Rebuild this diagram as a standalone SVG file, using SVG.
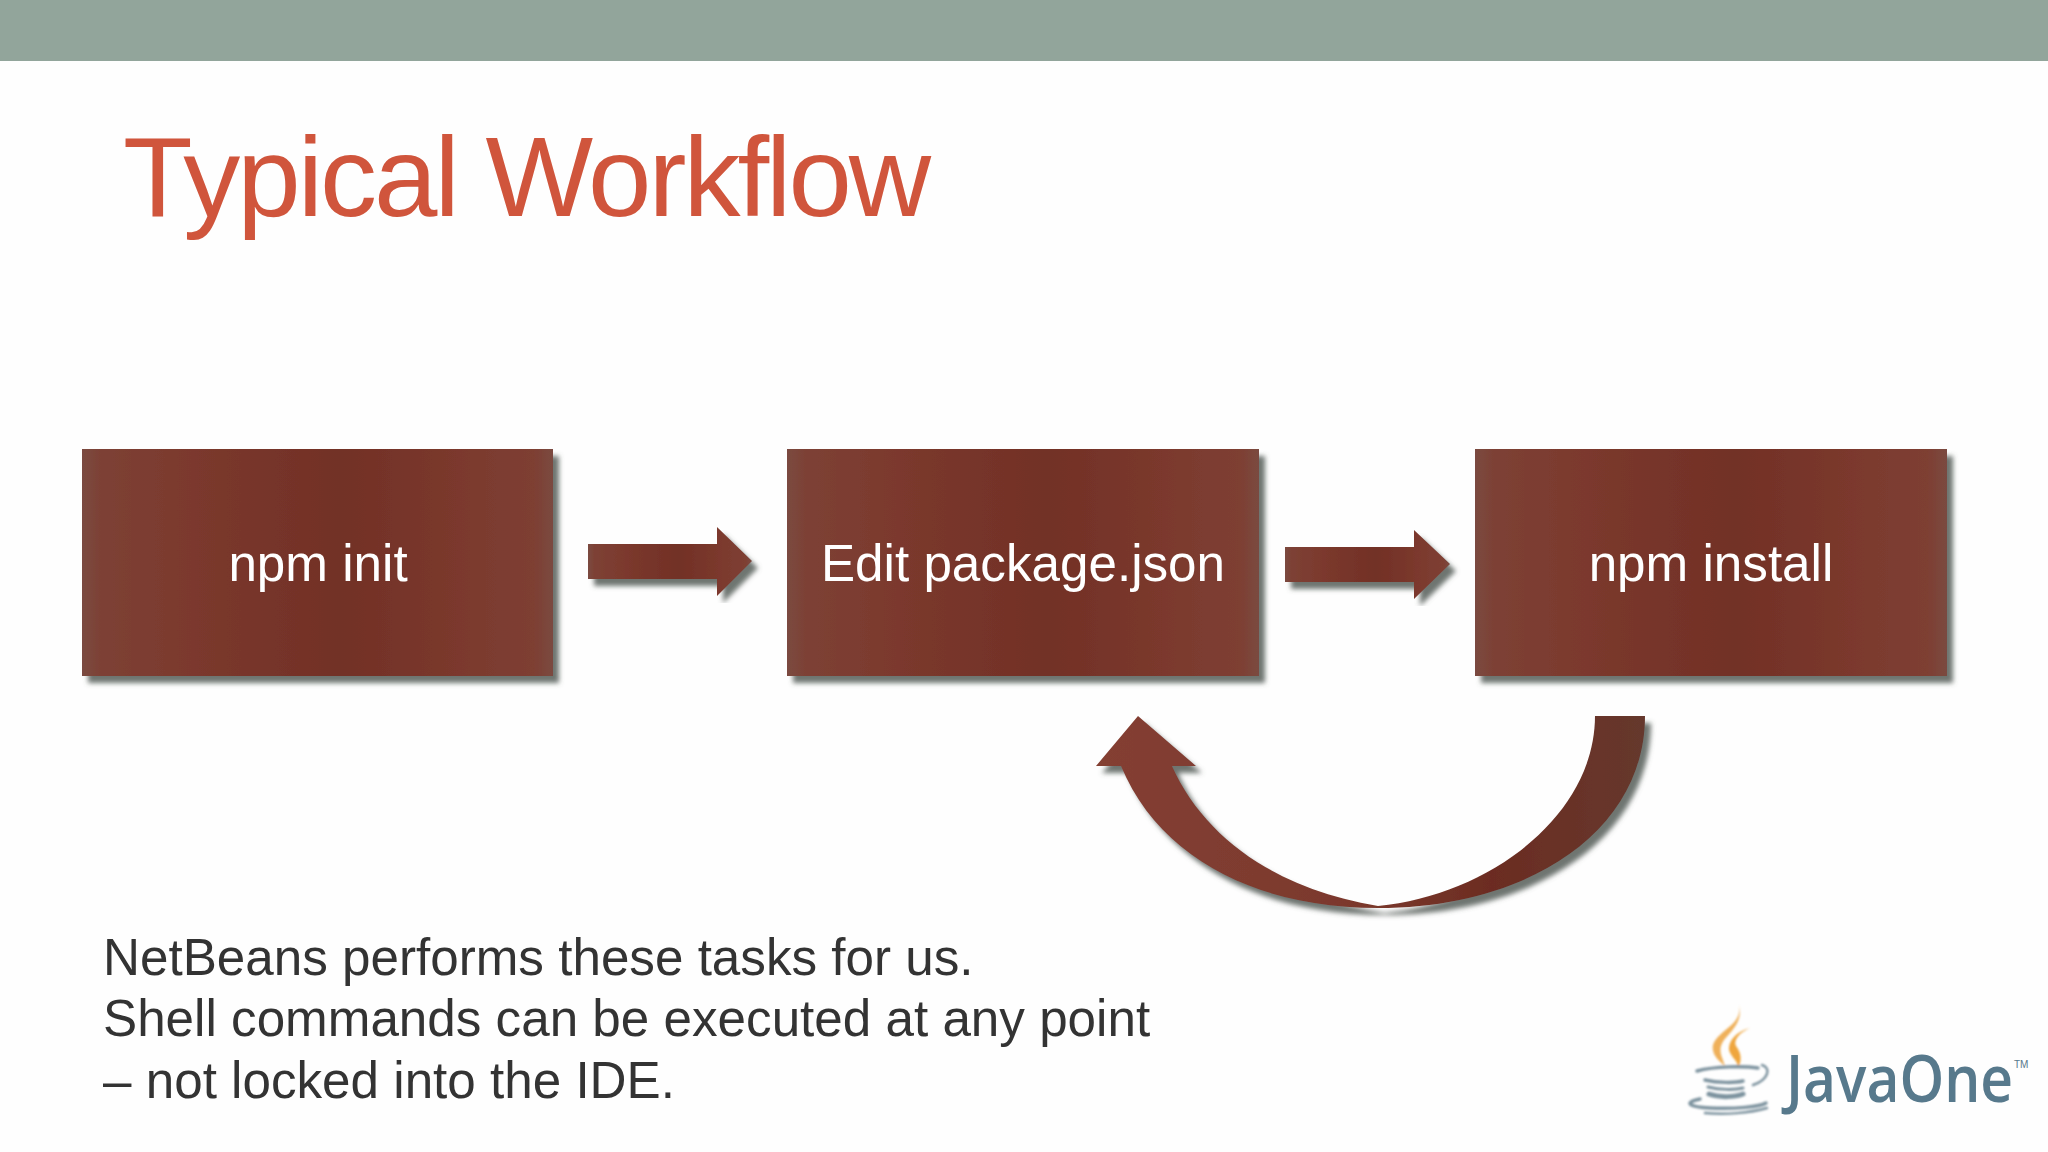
<svg xmlns="http://www.w3.org/2000/svg" width="2048" height="1152" viewBox="0 0 2048 1152">
<style>
.t{font-family:"Liberation Sans",Arial,sans-serif}
.box{fill:url(#g);filter:url(#s)}
.arrow{fill:url(#g);filter:url(#s)}
.lbl{font-size:51.2px;fill:#fff;text-anchor:middle}
.note{font-size:51.2px;fill:#333}
</style>
<defs>
<linearGradient id="g" x1="0" x2="1" y1="0" y2="0">
<stop offset="0" stop-color="#7a4a40"/><stop offset=".04" stop-color="#7d4135"/><stop offset=".2" stop-color="#7c3a2e"/><stop offset=".55" stop-color="#723026"/><stop offset=".8" stop-color="#7b392d"/><stop offset=".96" stop-color="#7e3f33"/><stop offset="1" stop-color="#7a4a40"/>
</linearGradient>
<linearGradient id="c" x1="0" x2="1" y1="0" y2="0">
<stop offset="0" stop-color="#843f33"/><stop offset=".5" stop-color="#7a382c"/><stop offset=".72" stop-color="#6c2c22"/><stop offset="1" stop-color="#65382d"/>
</linearGradient>
<filter id="s" x="-5%" y="-5%" width="112%" height="115%">
<feGaussianBlur in="SourceAlpha" stdDeviation="2.6" result="b"/>
<feOffset in="b" dx="6" dy="7" result="o"/>
<feFlood flood-color="#555d58" flood-opacity=".85"/><feComposite in2="o" operator="in" result="sh"/>
<feMerge><feMergeNode in="sh"/><feMergeNode in="SourceGraphic"/></feMerge>
</filter>
<filter id="soft" x="-10%" y="-10%" width="120%" height="120%"><feGaussianBlur stdDeviation=".8"/></filter>
</defs>
<rect width="2048" height="1152" fill="#fefefe"/>
<rect id="topbar" width="2048" height="61" fill="#92a59b"/>
<text id="title" class="t" x="123" y="216" font-size="114" letter-spacing="-3" fill="#d0553c">Typical Workflow</text>
<g id="connectors">
<path id="a1" class="arrow" d="M588 544H717V527L752 561L717 596V579H588Z"/>
<path id="a2" class="arrow" d="M1285 547H1414V530L1450 564L1414 599V582H1285Z"/>
<path id="loop" style="fill:url(#c);filter:url(#s)" d="M1645 716C1645 830 1530 908 1378 908C1260 908 1160 860 1121 766H1096L1138 716L1196 766H1172C1205 840 1280 890 1378 906C1490 895 1595 815 1595 716Z"/>
</g>
<g id="node1"><rect class="box" x="82" y="449" width="471" height="227"/><text class="t lbl" x="318" y="581">npm init</text></g>
<g id="node2"><rect class="box" x="787" y="449" width="472" height="227"/><text class="t lbl" x="1023" y="581">Edit package.json</text></g>
<g id="node3"><rect class="box" x="1475" y="449" width="472" height="227"/><text class="t lbl" x="1711" y="581">npm install</text></g>
<g id="note" class="t note">
<text x="103" y="975">NetBeans performs these tasks for us.</text>
<text x="103" y="1036">Shell commands can be executed at any point</text>
<text x="103" y="1098">– not locked into the IDE.</text>
</g>
<g id="logo">
<g filter="url(#soft)">
<path d="M1739 1005C1743 1025 1718 1030 1713 1045C1711 1055 1720 1062 1725 1066C1722 1056 1717 1050 1724 1040C1732 1030 1743 1022 1739 1005Z" fill="#efb05a"/>
<path d="M1750 1028C1735 1032 1728 1042 1729 1050C1731 1058 1740 1062 1737 1068C1743 1062 1741 1052 1736 1046C1733 1040 1740 1032 1750 1028Z" fill="#efa63e"/>
<g fill="none" stroke="#7d939f" stroke-linecap="round">
<path d="M1697 1071C1715 1066 1745 1066 1758 1068" stroke-width="3.5"/>
<path d="M1762 1065C1772 1068 1768 1080 1753 1085" stroke-width="2.5"/>
<path d="M1705 1080C1718 1083 1735 1083 1743 1081" stroke-width="3.5"/>
<path d="M1708 1087C1720 1090 1735 1090 1743 1088" stroke-width="3"/>
<path d="M1709 1094C1720 1098 1735 1097 1743 1094" stroke-width="5"/>
<path d="M1700 1099C1682 1103 1690 1107 1710 1108C1735 1109 1760 1107 1766 1103" stroke-width="3.5"/>
<path d="M1705 1113C1725 1115 1750 1113 1767 1108" stroke-width="2.5"/>
</g>
</g>
<text id="logotext" transform="translate(1786 1102) scale(.875 1)" font-family="'Open Sans','Liberation Sans',sans-serif" font-size="65" font-weight="600" fill="#57798c">JavaOne</text>
<text x="2014" y="1068" font-family="'Liberation Sans',sans-serif" font-size="10" fill="#57798c">TM</text>
</g>
</svg>
